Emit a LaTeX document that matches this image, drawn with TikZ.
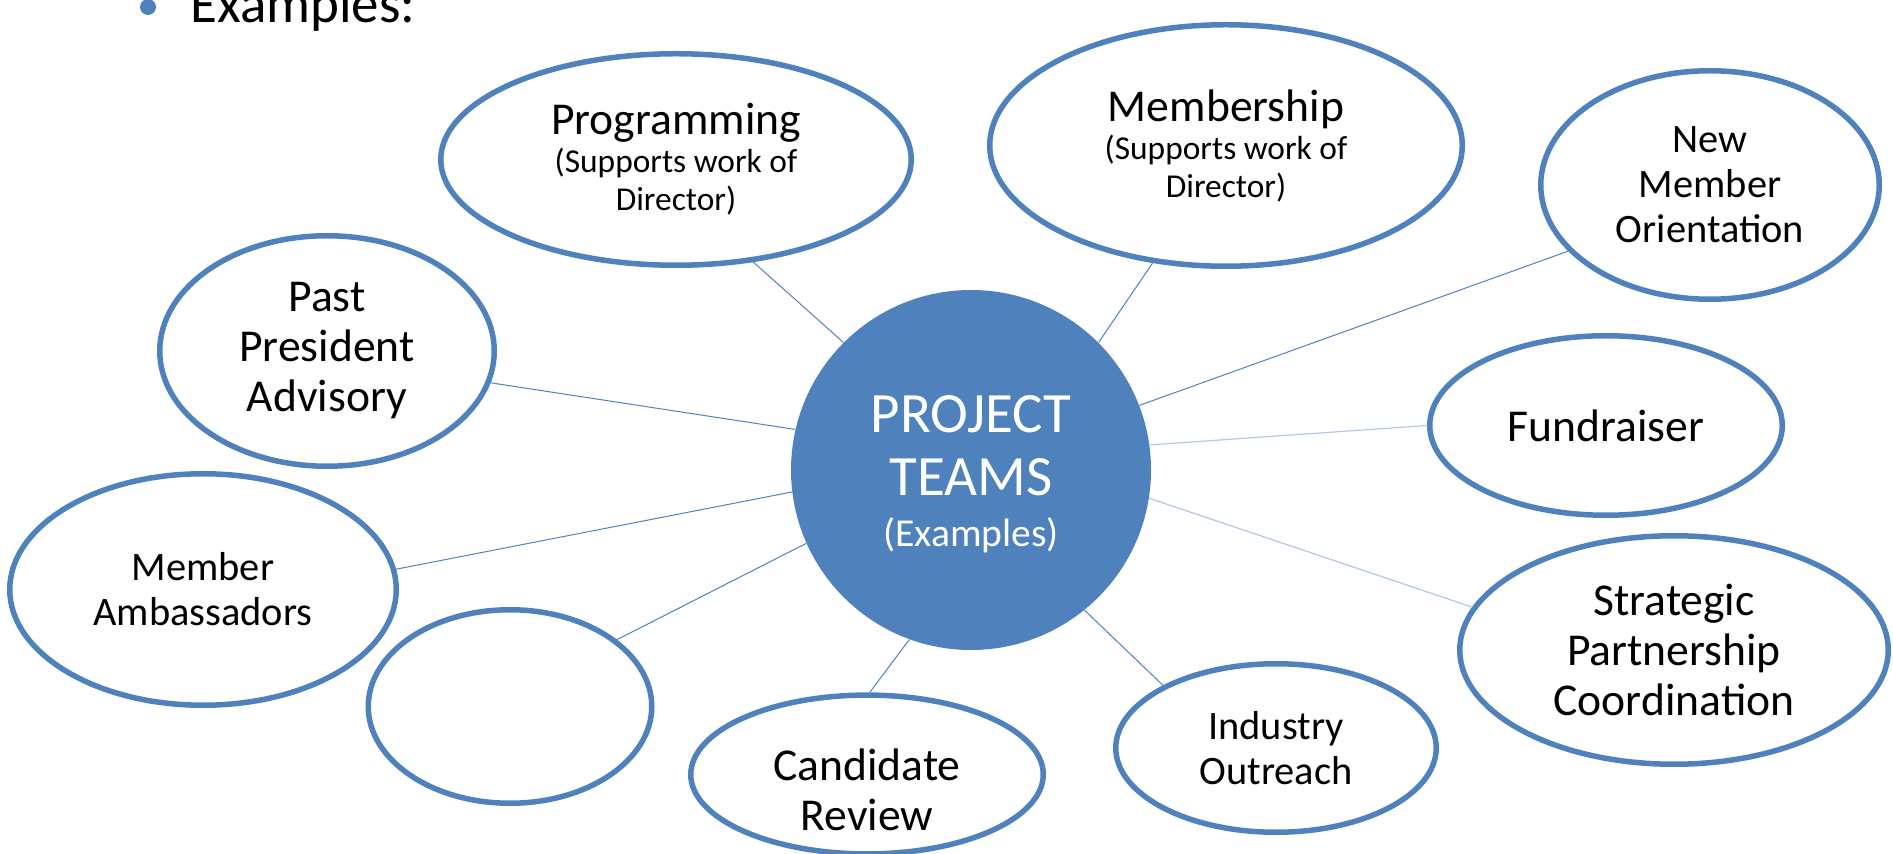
\documentclass[tikz,border=0pt]{standalone}
\usepackage{fontspec}
\setmainfont{Carlito}
\usepackage{xcolor}
\usetikzlibrary{shapes.geometric}

\definecolor{teamblue}{HTML}{4F81BD}
\definecolor{faintblue}{HTML}{B3C8E3}

\newcommand{\bigfont}{\fontsize{22.8}{25}\selectfont}
\newcommand{\midfont}{\fontsize{20.2}{22.5}\selectfont}
\newcommand{\smallfont}{\fontsize{16.7}{19}\selectfont}

\begin{document}
\begin{tikzpicture}[x=0.5pt, y=-0.5pt,
	team/.style={ellipse, draw=teamblue, line width=2.75pt, fill=white, inner sep=0pt, align=center},
	hub/.style={circle, fill=teamblue, text=white, inner sep=0pt, minimum size=180pt, align=center},
	link/.style={teamblue, line width=0.5pt},
	faintlink/.style={faintblue, line width=0.6pt}]

\useasboundingbox (0,0) rectangle (1893,854);

% heading
\node[circle, fill=teamblue, inner sep=0pt, minimum size=8pt] (bullet) at (148,7) {};
\node[anchor=base west, inner sep=0pt, font=\fontsize{27.5}{30}\selectfont] (head) at (190,23) {Examples:};

% centre
\node[hub, font=\fontsize{28.5}{31.5}\selectfont] (hub) at (971,470)
	{\rule{0pt}{23pt}PROJECT\\TEAMS\\[-6pt] \fontsize{19.8}{22.5}\selectfont (Examples)};

% teams
\node[team, font=\smallfont, minimum width=235.25pt, minimum height=105.75pt] (prog) at (676,159.5)
	{\bigfont Programming\\ (Supports work of\\ Director)};
\node[team, font=\smallfont, minimum width=236.25pt, minimum height=120.75pt] (memb) at (1226,145.5)
	{\bigfont Membership\\ (Supports work of\\ Director)};
\node[team, font=\midfont, minimum width=169.25pt, minimum height=114.25pt] (nmo) at (1710,185)
	{New\\Member\\Orientation};
\node[team, font=\bigfont, minimum width=167.25pt, minimum height=115.25pt] (past) at (327,351)
	{Past\\President\\Advisory};
\node[team, font=\bigfont, minimum width=176.25pt, minimum height=89.75pt] (fund) at (1606,425.5)
	{Fundraiser};
\node[team, font=\midfont, minimum width=193.25pt, minimum height=115.75pt] (amb) at (203,589.5)
	{Member\\Ambassadors};
\node[team, minimum width=141.75pt, minimum height=96.75pt] (blank) at (510,706.5) {};
\node[team, font=\bigfont, minimum width=176.25pt, minimum height=73.75pt] (cand) at (867,774.5)
	{\rule{0pt}{31pt}Candidate\\Review};
\node[team, font=\midfont, minimum width=160.25pt, minimum height=84.25pt] (indus) at (1276,748)
	{Industry\\Outreach};
\node[team, font=\bigfont, minimum width=214.25pt, minimum height=114.25pt] (strat) at (1674,650)
	{Strategic\\Partnership\\Coordination};

% spokes
\foreach \a/\t/\b in {135/prog/-53, 45/memb/-122, 21/nmo/-155, 167/past/-11,
	-51/indus/151, -110/cand/88, -156/blank/32, -173/amb/6}{
	\draw[link] (hub.\a) -- (\t.\b);
}
\draw[faintlink] (hub.8) -- (fund.180);
\draw[faintlink] (hub.-9) -- (strat.168);

\end{tikzpicture}
\end{document}
